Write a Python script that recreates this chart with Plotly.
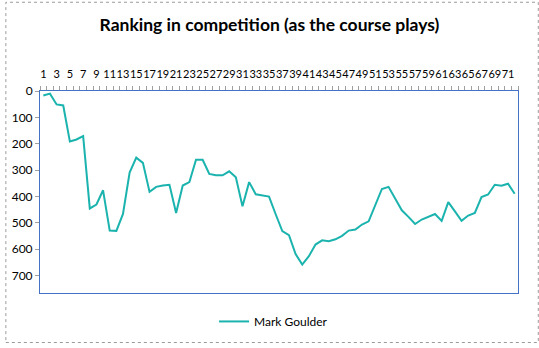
import plotly.graph_objects as go

rounds = list(range(1, 73))
ranking = [17, 10, 51, 55, 192, 184, 171, 446, 431, 377,
           530, 531, 467, 310, 253, 273, 383, 364, 359, 356,
           463, 359, 346, 261, 261, 315, 320, 320, 305, 328,
           438, 346, 392, 396, 401, 468, 532, 547, 619, 659,
           627, 583, 567, 570, 563, 550, 530, 526, 507, 495,
           437, 372, 364, 406, 453, 478, 505, 488, 478, 467,
           493, 422, 457, 493, 473, 463, 403, 393, 356, 360,
           352, 390]
x_tick_vals = list(range(1, 73, 2))
x_tick_text = [str(v) for v in x_tick_vals]
y_tick_vals = [0, 100, 200, 300, 400, 500, 600, 700]
series_name = "Mark Goulder"
title_text = "Ranking in competition (as the course plays)"

W, H = 539, 348
L, R, T, B = 35, 518, 91, 297

fig = go.Figure()
fig.add_trace(go.Scatter(
    x=rounds, y=ranking, mode="lines", name=series_name,
    line=dict(color="#1bb3ae", width=2),
))

pw, ph = R - L, B - T
def px2paper_x(p):
    return (p - L) / pw
def px2paper_y(p):
    return (B - p) / ph

fig.update_layout(
    width=W, height=H,
    margin=dict(l=L, r=W - R, t=T, b=H - B, pad=0),
    paper_bgcolor="white", plot_bgcolor="white",
    font=dict(family="Lato, 'Open Sans', sans-serif", size=11, color="#000000"),
    title=dict(text="<b>" + title_text + "</b>", x=0.5, xref="container",
               xanchor="center", y=1 - 25 / H, yanchor="middle",
               font=dict(size=17.5, family="Lato, sans-serif", color="#000000")),
    showlegend=True,
    legend=dict(orientation="h", x=px2paper_x(271), xanchor="center",
                y=px2paper_y(326), yanchor="middle",
                font=dict(size=12, family="Lato, sans-serif")),
    xaxis=dict(
        side="top", range=[0.5, 72.5], tickmode="array",
        tickvals=x_tick_vals, ticktext=x_tick_text, ticks="",
        tickangle=0,
        showgrid=False, zeroline=False,
        showline=True, linecolor="#4472c4", linewidth=1, mirror=True,
        tickfont=dict(size=11), ticklabelstandoff=8,
        minor=dict(tickmode="linear", tick0=0.5, dtick=1, ticks="outside",
                   ticklen=4, tickcolor="#a0a0a0", tickwidth=1, showgrid=False),
    ),
    yaxis=dict(
        range=[767, 0], tickmode="array", tickvals=y_tick_vals,
        ticks="outside", ticklen=4, tickcolor="#a0a0a0",
        showgrid=False, zeroline=False,
        showline=True, linecolor="#4472c4", linewidth=1, mirror=True,
        tickfont=dict(size=12),
    ),
)

fig.add_shape(type="rect", xref="paper", yref="paper",
              x0=px2paper_x(0.5), x1=px2paper_x(538.5),
              y0=px2paper_y(347.5), y1=px2paper_y(0.5),
              line=dict(color="#9a9a9a", width=1, dash="dot"),
              fillcolor="rgba(0,0,0,0)", layer="above")

fig.write_html("out.html")
